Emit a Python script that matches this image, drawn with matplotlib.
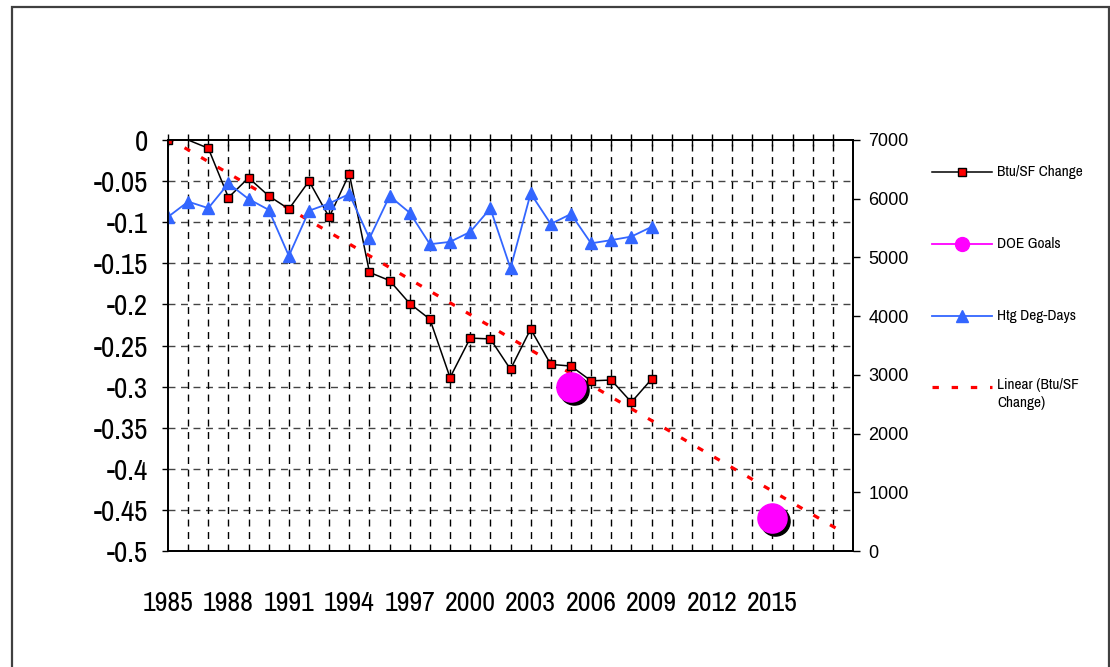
import numpy as np
import matplotlib
matplotlib.use('Agg')
import matplotlib.pyplot as plt
from matplotlib import font_manager
from matplotlib.lines import Line2D
from matplotlib.patches import Rectangle
from matplotlib.transforms import offset_copy

# Btu per square foot change vs. 1985, heating degree-days, DOE goals
years = list(range(1985, 2010))
btu_change = [0.0, 0.0, -0.010, -0.070, -0.046, -0.068, -0.084, -0.050, -0.094, -0.041,
              -0.161, -0.171, -0.199, -0.218, -0.289, -0.241, -0.242, -0.279, -0.230, -0.273,
              -0.275, -0.293, -0.292, -0.319, -0.291]
htg_deg_days = [5690, 5950, 5840, 6260, 5995, 5810, 5025, 5795, 5920, 6080,
                5325, 6045, 5760, 5225, 5265, 5435, 5835, 4815, 6090, 5570,
                5740, 5240, 5295, 5355, 5520]
doe_years = [2005, 2015]
doe_goals = [-0.30, -0.46]
xtick_years = list(range(1985, 2016, 3))

W, H = 1110, 667
installed = {f.name for f in font_manager.fontManager.ttflist}
NARROW = next((n for n in ('Archivo Narrow', 'PT Sans Narrow', 'Roboto Condensed')
               if n in installed), 'Liberation Sans')
REGULAR = 'Liberation Sans'

BLUE = '#3366FF'

fig = plt.figure(figsize=(W / 100, H / 100), dpi=100)
ax = fig.add_axes([168 / W, (H - 551) / H, (853 - 168) / W, (551 - 140) / H])
ax2 = ax.twinx()

# grid
for y in np.arange(-0.45, 0, 0.05):
    ax.axhline(y, color='#444444', lw=1, ls=(0, (5, 4)), zorder=0)
for yr in range(1986, 2019):
    ax.axvline(yr, color='black', lw=1, ls=(0, (5, 4)), zorder=0)

# linear trend of the Btu series, projected forward
coef = np.polyfit(years, btu_change, 1)
trend_x = np.array([1985, 2018.5])
ax.plot(trend_x, np.polyval(coef, trend_x), color='red', lw=2.3,
        ls=(0, (2, 4)), dash_capstyle='butt', zorder=2)

marks = [i for i in range(len(years)) if i != 1]
ax.plot(years, btu_change, color='black', lw=1.1, marker='s', ms=5.5,
        mfc='red', mec='black', mew=1, markevery=marks, zorder=3)

shadow = offset_copy(ax.transData, fig=fig, x=3, y=-3, units='dots')
ax.plot(doe_years, doe_goals, ls='none', marker='o', ms=21, mfc='black',
        mec='black', transform=shadow, zorder=4)
ax.plot(doe_years, doe_goals, ls='none', marker='o', ms=21, mfc='#FF00FF',
        mec='#FF00FF', zorder=5)

ax2.plot(years, htg_deg_days, color=BLUE, lw=1.3, marker='^', ms=8,
         mfc=BLUE, mec=BLUE)

ax.set_xlim(1985, 2019)
ax.set_ylim(-0.5, 0)
ax2.set_ylim(0, 7000)

ax.set_yticks(np.arange(-0.5, 0.001, 0.05))
ax.set_yticklabels(['-0.5', '-0.45', '-0.4', '-0.35', '-0.3', '-0.25', '-0.2',
                    '-0.15', '-0.1', '-0.05', '0'])
ax.set_xticks(xtick_years)
ax.set_xticklabels([str(y) for y in xtick_years])
# category ticks cross the zero line at the top
ax.set_xticks(range(1986, 2019), minor=True)
ax.tick_params(axis='y', direction='out', length=4.5, width=1, pad=10,
               labelsize=21, labelfontfamily=NARROW)
ax.tick_params(axis='x', which='both', bottom=False, top=True, direction='inout',
               length=8, width=1, pad=25, labelsize=20, labelfontfamily=NARROW)
ax2.set_yticks(range(0, 7001, 1000))
ax2.tick_params(axis='y', direction='out', length=5, width=1, pad=6,
                labelsize=13, labelfontfamily=REGULAR)
for a in (ax, ax2):
    for s in a.spines.values():
        s.set_linewidth(1.3)
        s.set_color('black')


def fx(px):
    return px / W


def fy(py):
    return 1 - py / H


# legend
legend_rows = [
    (172, dict(color='black', lw=1.1), dict(marker='s', ms=5.5, mfc='red', mec='black'), 'Btu/SF Change'),
    (244, dict(color='#FF00FF', lw=1.3), dict(marker='o', ms=10, mfc='#FF00FF', mec='#FF00FF'), 'DOE Goals'),
    (316, dict(color=BLUE, lw=1.3), dict(marker='^', ms=8, mfc=BLUE, mec=BLUE), 'Htg Deg-Days'),
]
for py, line_style, marker_style, label in legend_rows:
    fig.add_artist(Line2D([fx(932), fx(992)], [fy(py), fy(py)],
                          transform=fig.transFigure, **line_style))
    fig.add_artist(Line2D([fx(962)], [fy(py)], transform=fig.transFigure,
                          ls='none', **marker_style))
    fig.text(fx(997), fy(py), label, fontsize=11, family=NARROW, va='center', ha='left')
fig.add_artist(Line2D([fx(932), fx(992)], [fy(387), fy(387)], color='red', lw=2.3,
                      ls=(0, (2, 4)), dash_capstyle='butt', transform=fig.transFigure))
fig.text(fx(997), fy(378), 'Linear (Btu/SF\nChange)', fontsize=11, family=NARROW,
         va='top', ha='left', linespacing=1.4)

# chart frame
fig.add_artist(Rectangle((fx(12), -0.02), fx(1109) - fx(12), fy(7) + 0.02,
                         transform=fig.transFigure, fill=False,
                         edgecolor='#404040', lw=1.6))

fig.savefig('out.png', dpi=100)
